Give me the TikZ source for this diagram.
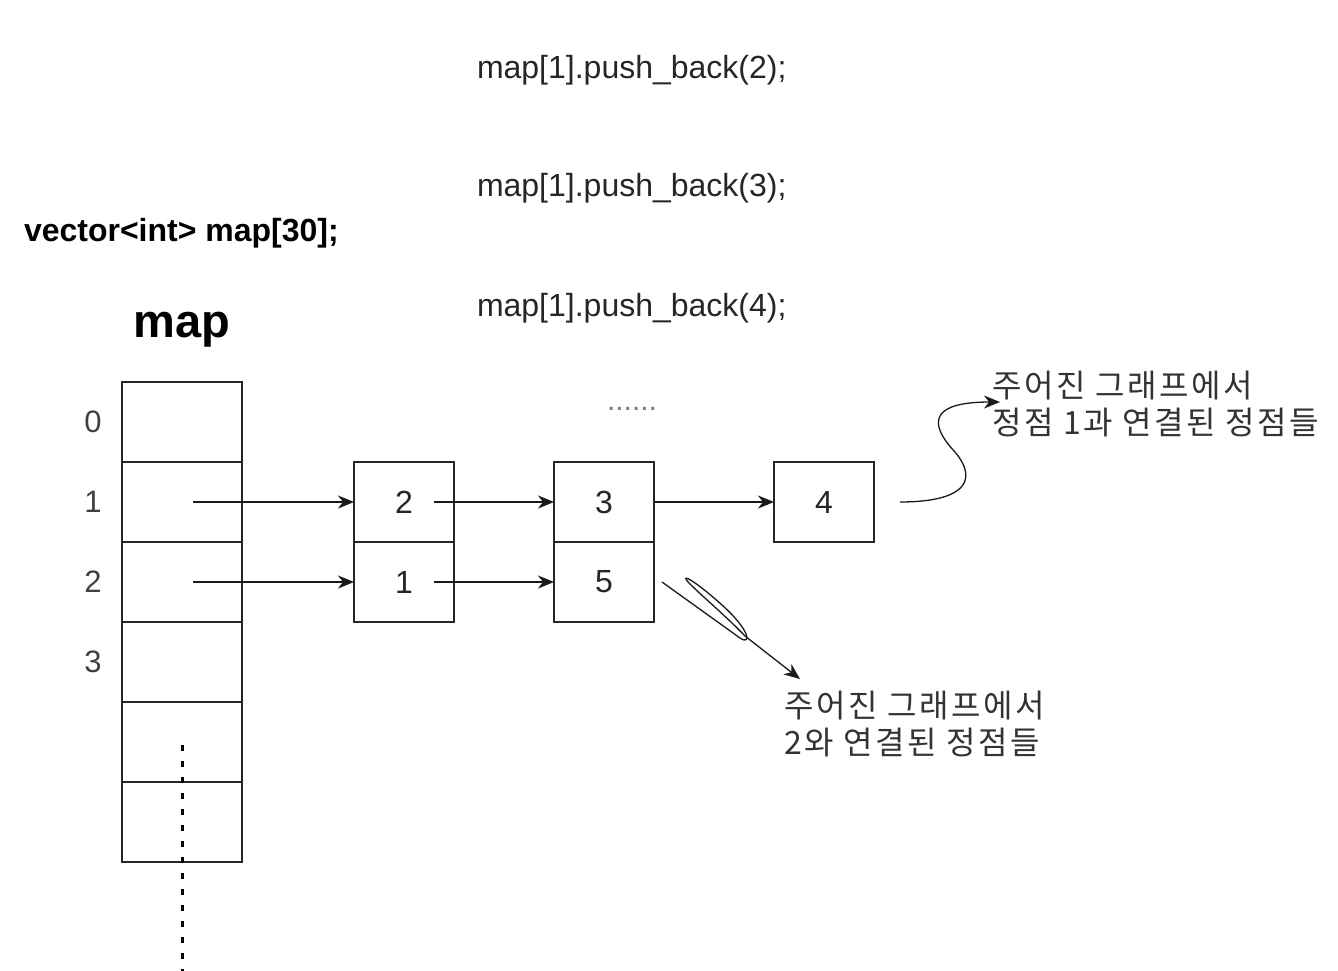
\documentclass[tikz,border=0pt]{standalone}
\usepackage{fontspec}
\setmainfont{Liberation Sans}
\newfontfamily\kr[LetterSpace=8]{Noto Sans CJK KR}
\usetikzlibrary{arrows.meta,calc}
\begin{document}
\begin{tikzpicture}[x=1pt,y=-1pt,
  every node/.style={inner sep=0pt,outer sep=0pt},
  cell/.style={draw,line width=1.4pt,draw=black!85,minimum width=120pt,minimum height=80pt},
  item/.style={draw,line width=1.4pt,draw=black!85,minimum width=100pt,minimum height=80pt,font=\fontsize{32}{38}\selectfont,text=black!85},
  lbl/.style={font=\fontsize{31}{38}\selectfont,text=black!75},
  code/.style={anchor=west,font=\fontsize{32}{38}\selectfont,text=black!85},
  ko/.style={anchor=west,align=left,font=\kr\fontsize{32}{37}\selectfont,text=black!80},
  link/.style={line width=1.3pt,draw=black!90,-{Stealth[length=16pt,width=13pt,inset=5pt]}}
]
\useasboundingbox (0,0) rectangle (1338,970);
% code texts
\node[code] (t1) at (477,70) {map[1].push\_back(2);};
\node[code] (t2) at (477,188) {map[1].push\_back(3);};
\node[code] (t3) at (477,308) {map[1].push\_back(4);};
\node[anchor=west,font=\bfseries\fontsize{32}{38}\selectfont] (decl) at (24,233) {vector<int> map[30];};
\node[font=\bfseries\fontsize{47}{52}\selectfont] (title) at (182,330) {map};
\node[font=\fontsize{30}{34}\selectfont,text=black!50] (dots) at (632,409) {......};
% array cells
\foreach \i in {0,...,5} {
  \node[cell] (c\i) at (182,{422+80*\i}) {};
}
\foreach \i in {0,...,3} {
  \node[lbl] (l\i) at (93,{422+80*\i}) {\i};
}
% list nodes
\node[item] (n2) at (404,502) {2};
\node[item] (n1) at (404,582) {1};
\node[item] (n3) at (604,502) {3};
\node[item] (n5) at (604,582) {5};
\node[item] (n4) at (824,502) {4};
% arrows
\draw[link] ($(c1.center)+(11,0)$) -- (n2.west);
\draw[link] ($(c2.center)+(11,0)$) -- (n1.west);
\draw[link] ($(n2.center)+(30,0)$) -- (n3.west);
\draw[link] ($(n1.center)+(30,0)$) -- (n5.west);
\draw[link] (n3.east) -- (n4.west);
% dotted continuation
\coordinate (dtop) at (182,745);
\coordinate (dbot) at (182,972);
\draw[line width=3pt,dash pattern=on 6pt off 10pt] (dtop) -- (dbot);
% annotations
\node[ko] (k1) at (992,404) {주어진 그래프에서\\정점 1과 연결된 정점들};
\node[ko] (k2) at (784,724) {주어진 그래프에서\\2와 연결된 정점들};
\coordinate (s1) at ($(n4.east)+(26,0)$);
\draw[link] (s1) .. controls (962,502) and (980,482) .. (955,452)
  .. controls (925,420) and (935,402) .. ($(k1.west)+(8,-2)$);
\coordinate (s2) at ($(n5.east)+(8,0)$);
\draw[link] (s2) -- (740,638) .. controls (752,646) and (750,630) .. (722,605)
  .. controls (692,578) and (678,572) .. (690,584)
  .. controls (702,596) and (728,618) .. (745,636) -- ($(k2.north west)+(16,-12)$);
\end{tikzpicture}
\end{document}
